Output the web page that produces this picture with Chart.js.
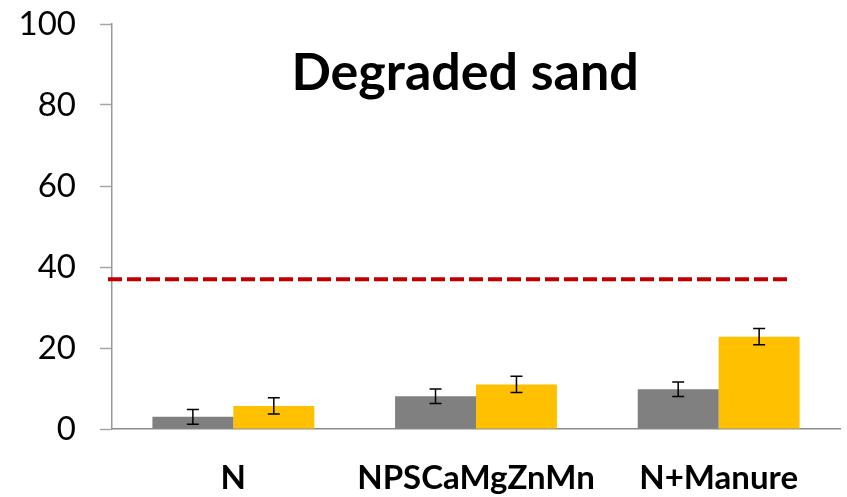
<!DOCTYPE html>
<html>
<head>
<meta charset="utf-8">
<script src="https://cdn.jsdelivr.net/npm/chart.js@4.4.1/dist/chart.umd.min.js"></script>
<style>
  html, body { margin: 0; padding: 0; background: #fff; }
  #wrap { width: 847px; height: 497px; }
</style>
</head>
<body>
<div id="wrap"><canvas id="c" width="847" height="497"></canvas></div>
<script>
const categories = ['N', 'NPSCaMgZnMn', 'N+Manure'];
const seriesGray = [3.0, 8.1, 9.8];
const seriesGrayErr = [1.8, 1.8, 1.8];
const seriesOrange = [5.7, 11.0, 22.8];
const seriesOrangeErr = [2.0, 2.0, 2.0];
const thresholdValue = [37];
const yTicks = [0, 20, 40, 60, 80, 100];
const titleText = 'Degraded sand';

const FONT = 'Lato, "Open Sans", sans-serif';

const errorBars = {
  id: 'errorBars',
  afterDatasetsDraw(chart) {
    const ctx = chart.ctx;
    const y = chart.scales.y;
    ctx.save();
    ctx.strokeStyle = '#000';
    ctx.lineWidth = 1.5;
    chart.data.datasets.forEach((ds, i) => {
      if (!ds.errors) return;
      const meta = chart.getDatasetMeta(i);
      meta.data.forEach((bar, j) => {
        const v = ds.data[j], e = ds.errors[j];
        const x = bar.x;
        const yt = y.getPixelForValue(v + e);
        const yb = y.getPixelForValue(v - e);
        ctx.beginPath();
        ctx.moveTo(x, yt); ctx.lineTo(x, yb);
        ctx.moveTo(x - 6, yt); ctx.lineTo(x + 6, yt);
        ctx.moveTo(x - 6, yb); ctx.lineTo(x + 6, yb);
        ctx.stroke();
      });
    });
    ctx.restore();
  }
};

const thresholdLine = {
  id: 'thresholdLine',
  afterDatasetsDraw(chart) {
    const ctx = chart.ctx;
    const area = chart.chartArea;
    const yy = chart.scales.y.getPixelForValue(thresholdValue[0]);
    ctx.save();
    ctx.strokeStyle = '#C00000';
    ctx.lineWidth = 4;
    ctx.setLineDash([14, 5]);
    ctx.beginPath();
    ctx.moveTo(area.left - 4, yy);
    ctx.lineTo(area.right - 53, yy);
    ctx.stroke();
    ctx.restore();
  }
};

const innerTitle = {
  id: 'innerTitle',
  afterDraw(chart) {
    const ctx = chart.ctx;
    const area = chart.chartArea;
    ctx.save();
    ctx.fillStyle = '#000';
    ctx.font = 'bold 52px ' + FONT;
    ctx.textAlign = 'center';
    ctx.textBaseline = 'alphabetic';
    ctx.fillText(titleText, area.left + (area.right - area.left) * 0.485, area.top + 66);
    ctx.restore();
  }
};

new Chart(document.getElementById('c'), {
  type: 'bar',
  data: {
    labels: categories,
    datasets: [
      { data: seriesGray, errors: seriesGrayErr, backgroundColor: '#808080', borderWidth: 0 },
      { data: seriesOrange, errors: seriesOrangeErr, backgroundColor: '#FFC000', borderWidth: 0 }
    ]
  },
  options: {
    responsive: false,
    animation: false,
    devicePixelRatio: 1,
    layout: { padding: { top: 24, right: 7, left: 0, bottom: 0 } },
    categoryPercentage: 0.667,
    barPercentage: 1.0,
    plugins: { legend: { display: false }, tooltip: { enabled: false }, title: { display: false } },
    scales: {
      x: {
        grid: { display: false, drawTicks: false },
        border: { display: true, color: '#8c8c8c', width: 1.5 },
        ticks: { color: '#000', font: { family: FONT, size: 33, weight: 'bold' }, padding: 30, maxRotation: 0 },
        afterFit(s) { s.height = 68; s.paddingLeft = 0; s.paddingRight = 0; }
      },
      y: {
        min: 0, max: 100,
        afterBuildTicks(s) { s.ticks = yTicks.map(v => ({ value: v })); },
        grid: { drawOnChartArea: false, drawTicks: true, tickLength: 12, color: '#a6a6a6', tickWidth: 1.5 },
        border: { display: true, color: '#999999', width: 1.5 },
        ticks: { color: '#000', font: { family: FONT, size: 33 }, padding: 24 },
        afterFit(s) { s.width = 112; s.paddingTop = 0; s.paddingBottom = 0; }
      }
    }
  },
  plugins: [errorBars, thresholdLine, innerTitle]
});
</script>
</body>
</html>
